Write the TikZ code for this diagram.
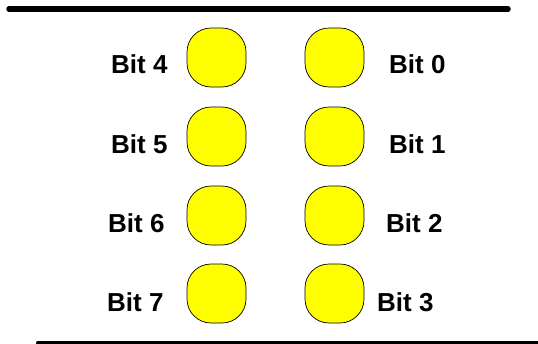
\documentclass[tikz,border=0pt]{standalone}
\usepackage{fontspec}
\setmainfont{Liberation Sans}
\begin{document}
\begin{tikzpicture}[x=1pt,y=-1pt,
  led/.style={draw=black, line width=0.7pt, fill={rgb,255:red,255;green,255;blue,0}, minimum width=59pt, minimum height=59pt, rounded corners=24pt, inner sep=0pt},
  lbl/.style={font=\fontsize{26}{30}\selectfont\bfseries, inner sep=0pt, anchor=base west},
  bar/.style={line width=5.5pt, line cap=round}]
\clip (0,0) rectangle (538,343);
\fill[white] (0,0) rectangle (538,343);
% top and bottom bars
\coordinate (t1) at (9,9);
\coordinate (t2) at (508,9);
\draw[bar] (t1) -- (t2);
\coordinate (u1) at (38,342.5);
\coordinate (u2) at (560,342.5);
\draw[bar, line width=4pt] (u1) -- (u2);
% LEDs
\node[led] (b4) at (216.5,57.5) {};
\node[led] (b5) at (216.5,136.5) {};
\node[led] (b6) at (216.5,215.5) {};
\node[led] (b7) at (216.5,293.5) {};
\node[led] (b0) at (334.5,57.5) {};
\node[led] (b1) at (334.5,136.5) {};
\node[led] (b2) at (334.5,215.5) {};
\node[led] (b3) at (334.5,293.5) {};
% labels
\node[lbl] (l4) at (111,73) {Bit 4};
\node[lbl] (l5) at (111,153) {Bit 5};
\node[lbl] (l6) at (108,232) {Bit 6};
\node[lbl] (l7) at (107,311) {Bit 7};
\node[lbl] (l0) at (389,73) {Bit 0};
\node[lbl] (l1) at (389,153) {Bit 1};
\node[lbl] (l2) at (386,232) {Bit 2};
\node[lbl] (l3) at (377,311) {Bit 3};
\end{tikzpicture}
\end{document}
